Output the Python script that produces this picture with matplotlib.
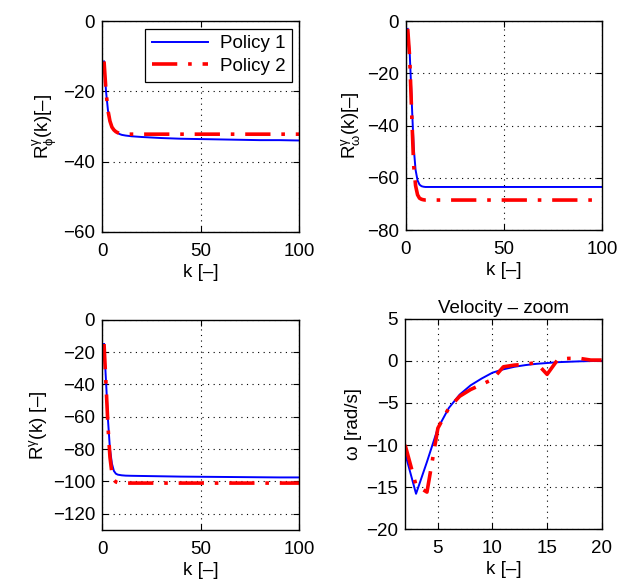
import matplotlib
matplotlib.use("Agg")
import matplotlib.pyplot as plt

plt.rcParams['font.family'] = ['Liberation Sans', 'DejaVu Sans']
plt.rcParams['mathtext.fontset'] = 'custom'
plt.rcParams['mathtext.rm'] = 'Liberation Sans'
plt.rcParams['mathtext.it'] = 'Liberation Sans'

# sampled k values for the long runs
k_long = [1, 2, 3, 4, 5, 6, 7, 8, 9, 10, 12, 15, 20, 30, 40, 50, 60, 70, 80, 90, 100]

phi_p1 = [-11.5, -20, -25.5, -28.5, -30.2, -31.0, -31.5, -31.9, -32.2, -32.4, -32.6, -32.8,
          -33.0, -33.3, -33.5, -33.6, -33.7, -33.8, -33.9, -33.9, -34.0]
phi_p2 = [-11.5, -20, -25.5, -28.5, -30.2, -31.0, -31.5, -31.8, -32.0, -32.1, -32.2, -32.2,
          -32.2, -32.2, -32.2, -32.2, -32.2, -32.2, -32.2, -32.2, -32.2]

om_p1 = [-3, -12, -30, -48, -57, -61, -62.6, -63.2, -63.4, -63.5, -63.5, -63.5,
         -63.5, -63.5, -63.5, -63.5, -63.5, -63.5, -63.5, -63.5, -63.5]
om_p2 = [-3, -14, -35, -55, -63, -66.5, -67.8, -68.2, -68.4, -68.5, -68.5, -68.5,
         -68.5, -68.5, -68.5, -68.5, -68.5, -68.5, -68.5, -68.5, -68.5]

tot_p1 = [-15, -38, -62, -80, -89, -93.5, -95.2, -95.8, -96.0, -96.2, -96.4, -96.5,
          -96.6, -96.8, -97.0, -97.1, -97.2, -97.3, -97.4, -97.5, -97.5]
tot_p2 = [-15, -40, -66, -85, -95, -99, -100.3, -100.7, -100.9, -101, -101, -101,
          -101, -101, -101, -101, -101, -101, -101, -101, -101]

# velocity zoom
k_zoom = list(range(2, 21))
vel_p1 = [-11.0, -15.8, -12.0, -8.0, -5.6, -4.0, -2.9, -2.1, -1.4, -1.0, -0.7, -0.5,
          -0.35, -0.25, -0.15, -0.1, -0.05, -0.02, 0.0]
vel_p2 = [-10.0, -14.8, -15.6, -8.0, -5.6, -4.2, -3.4, -2.8, -2.2, -0.7, -0.5, -0.4,
          -0.2, -1.6, 0.2, 0.3, 0.3, 0.1, 0.1]

fig = plt.figure(figsize=(6.34, 5.84), dpi=100)
positions = [[0.161, 0.603, 0.311, 0.361],
             [0.640, 0.606, 0.310, 0.358],
             [0.161, 0.0925, 0.311, 0.360],
             [0.639, 0.094, 0.310, 0.360]]
axs = [fig.add_axes(p) for p in positions]

fs = 13.5
red_style = dict(color='red', linewidth=2.6, dashes=(7, 3, 1, 3))
blue_style = dict(color='blue', linewidth=1.4)

panels = [
    (k_long, phi_p1, phi_p2, (0, 100), (-60, 0), [0, -20, -40, -60], r'R$^{\gamma}_{\phi}$(k)[–]'),
    (k_long, om_p1, om_p2, (0, 100), (-80, 0), [0, -20, -40, -60, -80], r'R$^{\gamma}_{\omega}$(k)[–]'),
    (k_long, tot_p1, tot_p2, (0, 100), (-130, 0), [0, -20, -40, -60, -80, -100, -120], r'R$^{\gamma}$(k) [–]'),
    (k_zoom, vel_p1, vel_p2, (2, 20), (-20, 5), [5, 0, -5, -10, -15, -20], 'ω [rad/s]'),
]

for ax, (k, p1, p2, xl, yl, yt, lab) in zip(axs, panels):
    ax.plot(k, p1, label='Policy 1', **blue_style)
    ax.plot(k, p2, label='Policy 2', **red_style)
    ax.set_xlim(*xl)
    ax.set_ylim(*yl)
    ax.set_yticks(yt)
    ax.set_ylabel(lab, fontsize=fs, labelpad=3)
    ax.set_xlabel('k [–]', fontsize=fs, labelpad=3)
    ax.grid(True, color='black', linestyle=(0, (1, 4)), linewidth=0.8)
    ax.tick_params(direction='in', top=True, right=True, labelsize=fs, length=4)
    ax.tick_params(axis='x', pad=8)
    ax.tick_params(axis='y', pad=5)
    for s in ax.spines.values():
        s.set_linewidth(1.0)

for ax in axs[:3]:
    ax.set_xticks([0, 50, 100])
axs[3].set_xticks([5, 10, 15, 20])
axs[3].set_title('Velocity – zoom', fontsize=fs, pad=4)

leg = axs[0].legend(loc='upper right', fontsize=fs, fancybox=False, framealpha=1,
                    edgecolor='black', borderaxespad=0.4, handlelength=3.0,
                    borderpad=0.35, labelspacing=0.3, handletextpad=0.6)
leg.get_frame().set_linewidth(0.9)

fig.savefig('out.png', dpi=100)
